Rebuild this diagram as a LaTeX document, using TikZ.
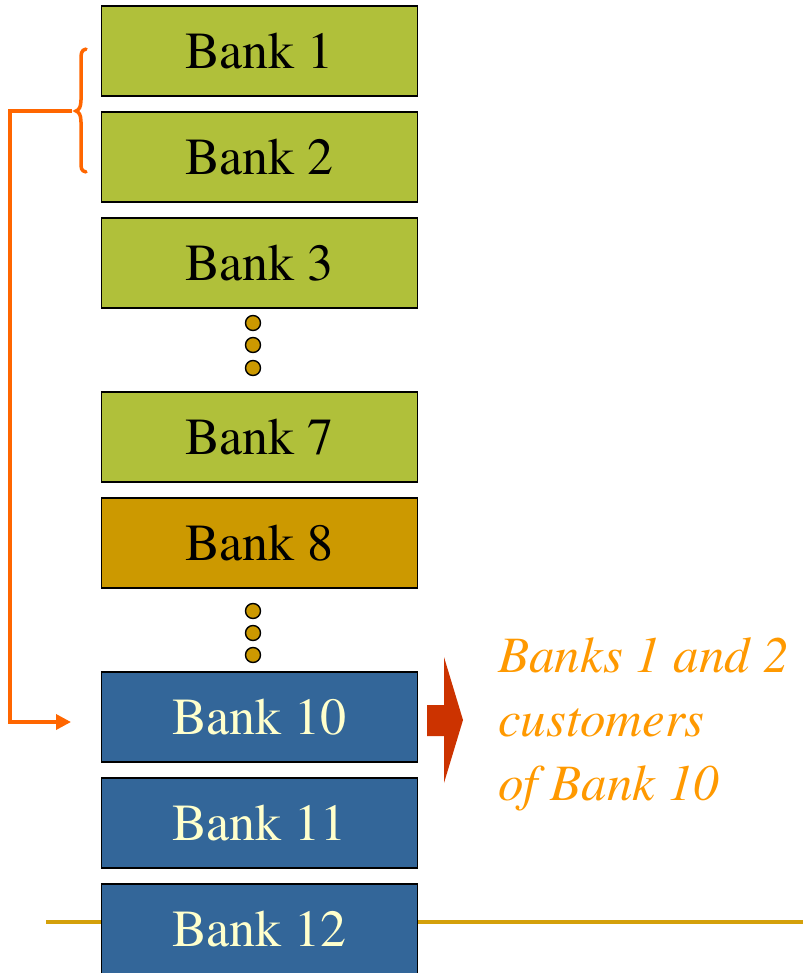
\documentclass[tikz,border=0pt]{standalone}
\usepackage[T1]{fontenc}
\renewcommand{\rmdefault}{ptm}
\usetikzlibrary{arrows.meta}

\definecolor{bankgreen}{RGB}{176,192,58}
\definecolor{bankgold}{RGB}{204,153,0}
\definecolor{bankblue}{RGB}{51,102,153}
\definecolor{paleyellow}{RGB}{255,255,204}
\definecolor{linkorange}{RGB}{255,102,0}
\definecolor{noteorange}{RGB}{255,153,0}
\definecolor{blockred}{RGB}{204,51,0}
\definecolor{rulegold}{RGB}{212,160,10}

\tikzset{
  bankbox/.style={draw=black, line width=1.8pt, minimum width=316pt, minimum height=90pt,
    inner sep=0pt, font=\rmfamily\fontsize{52}{52}\selectfont, text height=35pt, text depth=0pt},
  greenbank/.style={bankbox, fill=bankgreen, text=black},
  goldbank/.style={bankbox, fill=bankgold, text=black},
  bluebank/.style={bankbox, fill=bankblue, text=paleyellow},
  gapdot/.style={circle, draw=black, line width=1.4pt, fill=bankgold, minimum size=15pt, inner sep=0pt},
  link/.style={draw=linkorange, line width=3.5pt},
  note/.style={text=noteorange, font=\rmfamily\fontsize{51}{64}\selectfont\itshape, align=left, inner sep=0pt}
}

\begin{document}
\begin{tikzpicture}[x=1pt, y=-1pt]
\useasboundingbox (0,0) rectangle (803,973);

% bottom rule, behind the last box
\draw[rulegold, line width=4pt] (46,922) -- (803,922);

% stack of banks
\node[greenbank] (b1)  at (259.5,51)  {Bank 1};
\node[greenbank] (b2)  at (259.5,157) {Bank 2};
\node[greenbank] (b3)  at (259.5,263) {Bank 3};
\node[greenbank] (b7)  at (259.5,437) {Bank 7};
\node[goldbank]  (b8)  at (259.5,543) {Bank 8};
\node[bluebank]  (b10) at (259.5,717) {Bank 10};
\node[bluebank]  (b11) at (259.5,823) {Bank 11};
\node[bluebank]  (b12) at (259.5,929) {Bank 12};

% elision dots
\node[gapdot] (d1) at (253,323) {};
\node[gapdot] (d2) at (253,345) {};
\node[gapdot] (d3) at (253,368) {};
\node[gapdot] (d4) at (253,611) {};
\node[gapdot] (d5) at (253,633) {};
\node[gapdot] (d6) at (253,655) {};

% brace grouping banks 1 and 2
\coordinate (bracetip) at (76,111);
\draw[linkorange, line width=3.5pt, line cap=round]
  (86,49) .. controls (81,50) and (81,54) .. (81,60)
  -- (81,100) .. controls (81,107) and (79,110) .. (bracetip)
  .. controls (79,112) and (81,115) .. (81,122)
  -- (81,162) .. controls (81,168) and (81,171) .. (86,172);

% connector from the brace to bank 10
\coordinate (entry) at (71,722);
\draw[link, -{Triangle[length=15pt, width=15pt]}]
  (72,111) -- (10,111) -- (10,722) -- (entry);

% block arrow pointing at the note
\fill[blockred] (427,705) -- (444,705) -- (444,657) -- (463,720) -- (444,783)
  -- (444,736) -- (427,736) -- cycle;

% note (the base anchor sits on the last line)
\node[note, anchor=base west] (txt) at (498,800)
  {Banks 1 and 2\\customers\\of Bank 10};
\end{tikzpicture}
\end{document}
